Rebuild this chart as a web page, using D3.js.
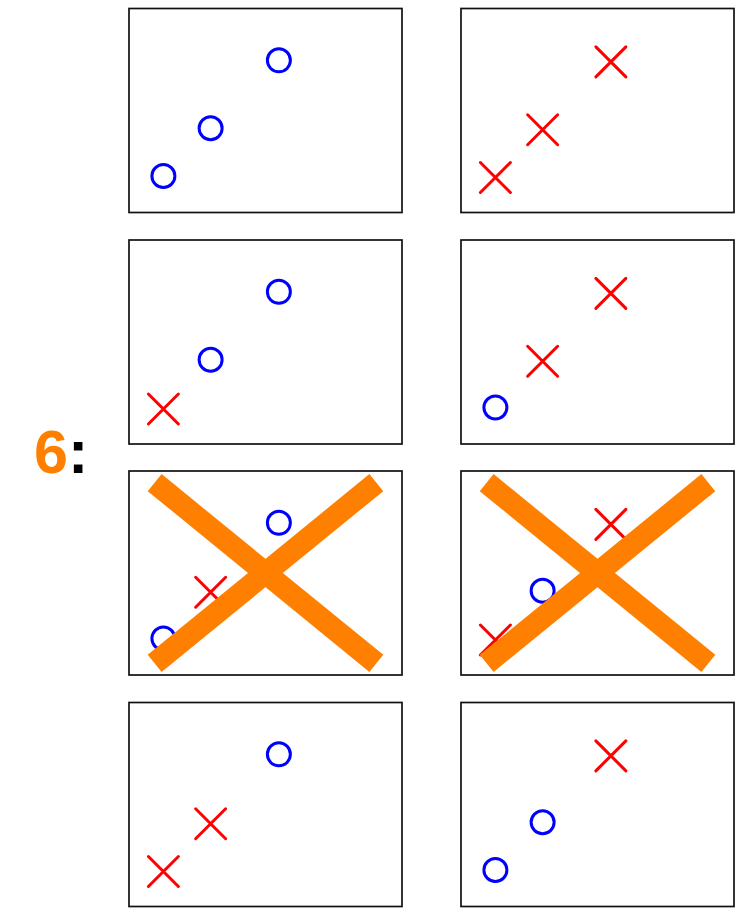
<!DOCTYPE html>
<html>
<head>
<meta charset="utf-8">
<script src="https://cdn.jsdelivr.net/npm/d3@7/dist/d3.min.js"></script>
<style>
  html, body { margin: 0; padding: 0; background: #fff; }
  svg { display: block; }
</style>
</head>
<body>
<svg id="chart" width="754" height="922"></svg>
<script>
// ---- data ----
const xValues = [1.26, 2.99, 5.49];   // x of the three points (domain 0..10)
const yValues = [1.79, 4.13, 7.46];   // y of the three points (domain 0..10)
// marker of each point, per panel (row-major, 4 rows x 2 cols)
const panelMarkers = [
  ["o", "o", "o"], ["x", "x", "x"],
  ["x", "o", "o"], ["o", "x", "x"],
  ["o", "x", "o"], ["x", "o", "x"],
  ["x", "x", "o"], ["o", "o", "x"]
];
const crossedPanels = [4, 5];          // panels struck out by the big orange X
const labelNumber = "6";
const labelSuffix = ":";

// ---- layout ----
const svg = d3.select("#chart");
const colX = [129, 461];
const rowY = [8.5, 240, 471, 702.5];
const pw = 273, ph = 204;

const x = d3.scaleLinear().domain([0, 10]).range([0, pw]);
const y = d3.scaleLinear().domain([0, 10]).range([ph, 0]);
const fx = d3.scaleLinear().domain([0, 1]).range([0, pw]);
const fy = d3.scaleLinear().domain([0, 1]).range([ph, 0]);

const xArm = 15;
const xPath = `M${-xArm},${-xArm}L${xArm},${xArm}M${-xArm},${xArm}L${xArm},${-xArm}`;

panelMarkers.forEach((markers, i) => {
  const r = Math.floor(i / 2), c = i % 2;
  const g = svg.append("g").attr("transform", `translate(${colX[c]},${rowY[r]})`);

  g.append("rect")
    .attr("x", 0).attr("y", 0).attr("width", pw).attr("height", ph)
    .attr("fill", "#fff").attr("stroke", "#111").attr("stroke-width", 1.7);

  const pts = markers.map((m, k) => ({ m, x: xValues[k], y: yValues[k] }));

  g.selectAll("circle.pt").data(pts.filter(d => d.m === "o")).enter()
    .append("circle").attr("class", "pt")
    .attr("cx", d => x(d.x)).attr("cy", d => y(d.y)).attr("r", 11.5)
    .attr("fill", "none").attr("stroke", "#0000ff").attr("stroke-width", 3);

  g.selectAll("path.pt").data(pts.filter(d => d.m === "x")).enter()
    .append("path").attr("class", "pt")
    .attr("transform", d => `translate(${x(d.x)},${y(d.y) + 1.5})`)
    .attr("d", xPath)
    .attr("fill", "none").attr("stroke", "#ff0000").attr("stroke-width", 3)
    .attr("stroke-linecap", "round");

  if (crossedPanels.includes(i)) {
    const lines = [[[0.094, 0.943], [0.906, 0.057]], [[0.094, 0.057], [0.906, 0.943]]];
    lines.forEach(([a, b]) => {
      g.append("line")
        .attr("x1", fx(a[0])).attr("y1", fy(a[1]))
        .attr("x2", fx(b[0])).attr("y2", fy(b[1]))
        .attr("stroke", "#ff8000").attr("stroke-width", 22)
        .attr("stroke-linecap", "butt");
    });
  }
});

const label = svg.append("text")
  .attr("x", 34).attr("y", 473)
  .attr("font-family", "'Liberation Sans', Arial, Helvetica, sans-serif")
  .attr("font-weight", "bold").attr("font-size", 61);
label.append("tspan").attr("fill", "#ff8000").text(labelNumber);
label.append("tspan").attr("fill", "#000").text(labelSuffix);
</script>
</body>
</html>
